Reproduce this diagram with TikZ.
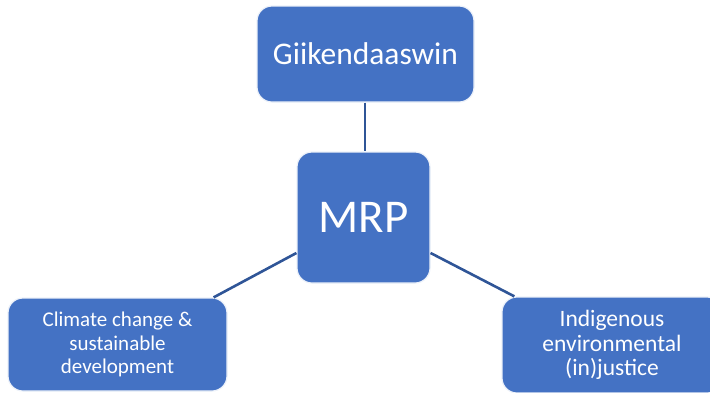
\documentclass[tikz,border=0pt]{standalone}
\usepackage{fontspec}
\setmainfont{Carlito}
\definecolor{boxblue}{HTML}{4472C4}
\definecolor{linkblue}{HTML}{2F5597}
\begin{document}
\begin{tikzpicture}[x=1pt,y=-1pt,
  box/.style={draw=white!90!boxblue,line width=1.2pt,fill=boxblue,rounded corners=15pt,
    text=white,align=center,inner sep=0pt},
  conn/.style={draw=linkblue,line width=2.6pt}]
\useasboundingbox (0,0) rectangle (710,392);
\node[box,minimum width=217pt,minimum height=96pt,font=\fontsize{31.5}{38}\selectfont] (top) at (365.5,54) {Giikendaaswin};
\node[box,minimum width=133pt,minimum height=131pt,font=\fontsize{47}{56}\selectfont] (mrp) at (363.5,217.5) {MRP};
\node[box,minimum width=219pt,minimum height=93pt,font=\fontsize{21}{23.5}\selectfont] (left) at (117.5,344.5) {Climate change \&\\sustainable\\development};
\node[box,minimum width=220pt,minimum height=96pt,font=\fontsize{23.5}{24.5}\selectfont] (right) at (612,345) {Indigenous\\environmental\\(in)justice};
\draw[conn] ([xshift=-0.5pt]top.south) -- ([xshift=-0.5pt]top.south |- mrp.north);
\draw[conn] ([yshift=-35.5pt]mrp.west) -- ([xshift=-14pt]left.north east);
\draw[conn] ([yshift=-35.5pt]mrp.east) -- ([xshift=13pt]right.north west);
\end{tikzpicture}
\end{document}
